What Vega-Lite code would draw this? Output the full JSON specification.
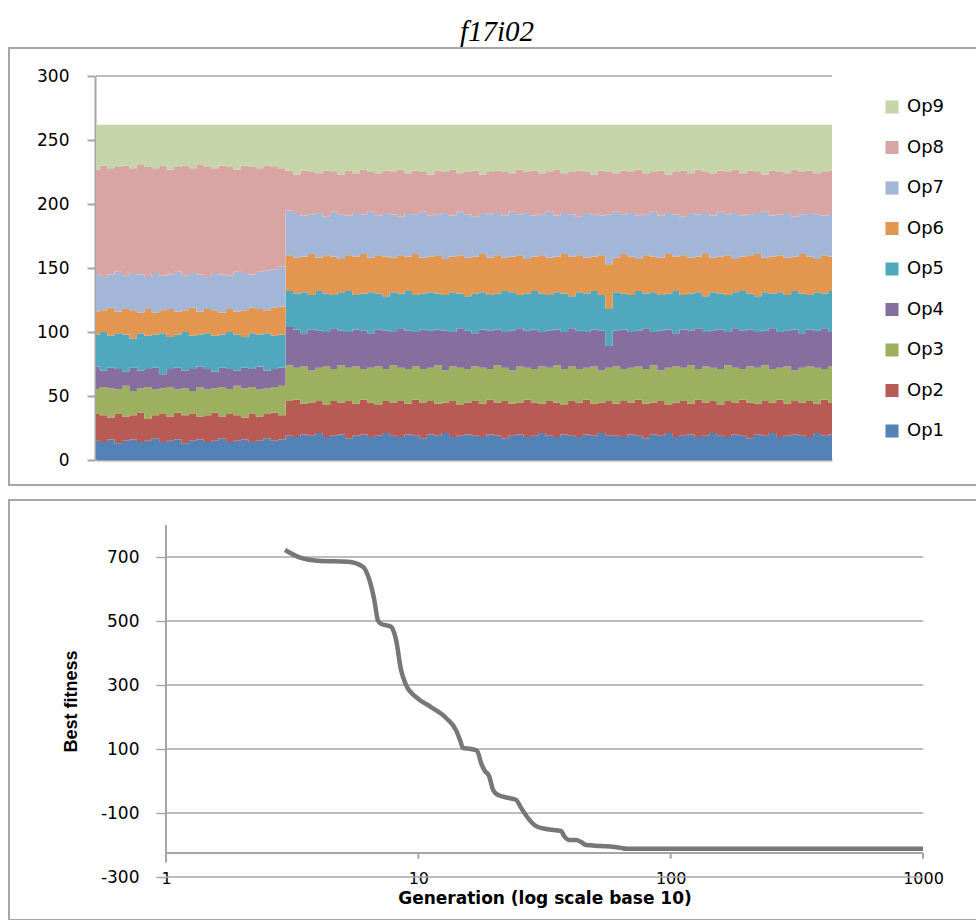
{
  "$schema": "https://vega.github.io/schema/vega-lite/v6.json",
  "background": "white",
  "padding": {"left": 8, "top": 18, "right": 0, "bottom": 0},
  "title": {"text": "f17i02", "font": "Liberation Serif", "fontStyle": "italic", "fontWeight": "normal", "fontSize": 29, "color": "#000000", "anchor": "middle", "frame": "group", "offset": 0, "dx": 4},
  "spacing": 13,
  "config": {
    "view": {"stroke": "#a6a6a6", "strokeWidth": 2},
    "axis": {"labelFont": "DejaVu Sans", "labelFontSize": 17, "labelColor": "#000000", "domainColor": "#a6a6a6", "tickColor": "#a6a6a6", "grid": false}
  },
  "vconcat": [
    {
      "width": 968,
      "height": 437,
      "layer": [
        {
          "data": {"values": [{"level": 300}]},
          "mark": {"type": "rule", "color": "#a6a6a6", "strokeWidth": 1.5},
          "encoding": {
            "y": {"field": "level", "type": "quantitative", "scale": {"domain": [0, 300], "range": [412, 28], "nice": false, "zero": false}},
            "x": {"datum": 1, "type": "quantitative", "scale": {"domain": [1, 100], "range": [87, 823], "nice": false, "zero": false}},
            "x2": {"datum": 100}
          }
        },
        {
          "data": {"values": [
            {"g":1,"Op1":15,"Op2":21,"Op3":19,"Op4":18,"Op5":25,"Op6":18,"Op7":30,"Op8":81,"Op9":35},
            {"g":2,"Op1":14,"Op2":21,"Op3":22,"Op4":13,"Op5":30,"Op6":17,"Op7":26,"Op8":87,"Op9":32},
            {"g":3,"Op1":16,"Op2":17,"Op3":23,"Op4":16,"Op5":25,"Op6":22,"Op7":26,"Op8":83,"Op9":34},
            {"g":4,"Op1":13,"Op2":23,"Op3":19,"Op4":16,"Op5":28,"Op6":17,"Op7":31,"Op8":82,"Op9":33},
            {"g":5,"Op1":15,"Op2":19,"Op3":24,"Op4":11,"Op5":29,"Op6":20,"Op7":26,"Op8":86,"Op9":32},
            {"g":6,"Op1":16,"Op2":19,"Op3":19,"Op4":18,"Op5":23,"Op6":22,"Op7":29,"Op8":82,"Op9":34},
            {"g":7,"Op1":14,"Op2":23,"Op3":19,"Op4":14,"Op5":29,"Op6":16,"Op7":30,"Op8":86,"Op9":31},
            {"g":8,"Op1":15,"Op2":17,"Op3":25,"Op4":14,"Op5":26,"Op6":21,"Op7":25,"Op8":86,"Op9":33},
            {"g":9,"Op1":17,"Op2":18,"Op3":20,"Op4":17,"Op5":26,"Op6":17,"Op7":31,"Op8":82,"Op9":34},
            {"g":10,"Op1":14,"Op2":22,"Op3":20,"Op4":11,"Op5":32,"Op6":18,"Op7":27,"Op8":86,"Op9":32},
            {"g":11,"Op1":15,"Op2":19,"Op3":23,"Op4":14,"Op5":25,"Op6":22,"Op7":27,"Op8":82,"Op9":35},
            {"g":12,"Op1":16,"Op2":21,"Op3":18,"Op4":17,"Op5":26,"Op6":18,"Op7":31,"Op8":82,"Op9":33},
            {"g":13,"Op1":13,"Op2":22,"Op3":21,"Op4":14,"Op5":30,"Op6":17,"Op7":27,"Op8":86,"Op9":32},
            {"g":14,"Op1":15,"Op2":21,"Op3":18,"Op4":17,"Op5":26,"Op6":22,"Op7":27,"Op8":82,"Op9":34},
            {"g":15,"Op1":16,"Op2":18,"Op3":23,"Op4":16,"Op5":25,"Op6":18,"Op7":29,"Op8":86,"Op9":31},
            {"g":16,"Op1":14,"Op2":21,"Op3":20,"Op4":16,"Op5":28,"Op6":19,"Op7":25,"Op8":86,"Op9":33},
            {"g":17,"Op1":15,"Op2":22,"Op3":19,"Op4":13,"Op5":28,"Op6":20,"Op7":29,"Op8":82,"Op9":34},
            {"g":18,"Op1":17,"Op2":17,"Op3":23,"Op4":15,"Op5":26,"Op6":17,"Op7":30,"Op8":85,"Op9":32},
            {"g":19,"Op1":14,"Op2":22,"Op3":19,"Op4":16,"Op5":29,"Op6":18,"Op7":26,"Op8":85,"Op9":33},
            {"g":20,"Op1":15,"Op2":20,"Op3":23,"Op4":12,"Op5":28,"Op6":18,"Op7":31,"Op8":80,"Op9":35},
            {"g":21,"Op1":16,"Op2":17,"Op3":23,"Op4":16,"Op5":24,"Op6":21,"Op7":29,"Op8":84,"Op9":32},
            {"g":22,"Op1":14,"Op2":22,"Op3":21,"Op4":14,"Op5":28,"Op6":20,"Op7":26,"Op8":84,"Op9":33},
            {"g":23,"Op1":15,"Op2":19,"Op3":21,"Op4":18,"Op5":25,"Op6":20,"Op7":29,"Op8":81,"Op9":34},
            {"g":24,"Op1":17,"Op2":19,"Op3":20,"Op4":14,"Op5":29,"Op6":18,"Op7":31,"Op8":82,"Op9":32},
            {"g":25,"Op1":15,"Op2":22,"Op3":20,"Op4":14,"Op5":26,"Op6":22,"Op7":30,"Op8":80,"Op9":33},
            {"g":26,"Op1":16,"Op2":19,"Op3":23,"Op4":14,"Op5":26,"Op6":22,"Op7":31,"Op8":77,"Op9":34},
            {"g":27,"Op1":19,"Op2":27,"Op3":28,"Op4":30,"Op5":28,"Op6":28,"Op7":35,"Op8":31,"Op9":36},
            {"g":28,"Op1":18,"Op2":29,"Op3":25,"Op4":30,"Op5":28,"Op6":28,"Op7":35,"Op8":30,"Op9":39},
            {"g":29,"Op1":20,"Op2":24,"Op3":29,"Op4":26,"Op5":32,"Op6":28,"Op7":32,"Op8":35,"Op9":36},
            {"g":30,"Op1":19,"Op2":26,"Op3":25,"Op4":32,"Op5":27,"Op6":32,"Op7":31,"Op8":33,"Op9":37},
            {"g":31,"Op1":21,"Op2":25,"Op3":26,"Op4":29,"Op5":31,"Op6":26,"Op7":35,"Op8":31,"Op9":38},
            {"g":32,"Op1":18,"Op2":25,"Op3":30,"Op4":27,"Op5":30,"Op6":30,"Op7":30,"Op8":36,"Op9":36},
            {"g":33,"Op1":19,"Op2":27,"Op3":25,"Op4":32,"Op5":26,"Op6":30,"Op7":35,"Op8":31,"Op9":37},
            {"g":34,"Op1":20,"Op2":25,"Op3":29,"Op4":27,"Op5":30,"Op6":26,"Op7":35,"Op8":31,"Op9":39},
            {"g":35,"Op1":17,"Op2":29,"Op3":26,"Op4":28,"Op5":32,"Op6":28,"Op7":31,"Op8":35,"Op9":36},
            {"g":36,"Op1":19,"Op2":25,"Op3":29,"Op4":29,"Op5":27,"Op6":30,"Op7":34,"Op8":31,"Op9":38},
            {"g":37,"Op1":20,"Op2":27,"Op3":24,"Op4":30,"Op5":29,"Op6":31,"Op7":31,"Op8":35,"Op9":35},
            {"g":38,"Op1":18,"Op2":27,"Op3":27,"Op4":27,"Op5":32,"Op6":27,"Op7":36,"Op8":31,"Op9":37},
            {"g":39,"Op1":19,"Op2":24,"Op3":30,"Op4":29,"Op5":28,"Op6":30,"Op7":31,"Op8":33,"Op9":38},
            {"g":40,"Op1":21,"Op2":25,"Op3":25,"Op4":30,"Op5":27,"Op6":31,"Op7":34,"Op8":33,"Op9":36},
            {"g":41,"Op1":19,"Op2":26,"Op3":29,"Op4":26,"Op5":31,"Op6":27,"Op7":34,"Op8":33,"Op9":37},
            {"g":42,"Op1":18,"Op2":28,"Op3":26,"Op4":31,"Op5":27,"Op6":30,"Op7":30,"Op8":37,"Op9":35},
            {"g":43,"Op1":20,"Op2":24,"Op3":27,"Op4":30,"Op5":31,"Op6":27,"Op7":34,"Op8":31,"Op9":38},
            {"g":44,"Op1":19,"Op2":28,"Op3":26,"Op4":27,"Op5":29,"Op6":32,"Op7":31,"Op8":34,"Op9":36},
            {"g":45,"Op1":17,"Op2":28,"Op3":26,"Op4":31,"Op5":28,"Op6":28,"Op7":36,"Op8":31,"Op9":37},
            {"g":46,"Op1":20,"Op2":26,"Op3":26,"Op4":29,"Op5":30,"Op6":28,"Op7":32,"Op8":32,"Op9":39},
            {"g":47,"Op1":19,"Op2":25,"Op3":30,"Op4":28,"Op5":28,"Op6":30,"Op7":32,"Op8":34,"Op9":36},
            {"g":48,"Op1":21,"Op2":24,"Op3":25,"Op4":31,"Op5":28,"Op6":28,"Op7":36,"Op8":32,"Op9":37},
            {"g":49,"Op1":18,"Op2":28,"Op3":27,"Op4":27,"Op5":31,"Op6":28,"Op7":32,"Op8":36,"Op9":35},
            {"g":50,"Op1":19,"Op2":24,"Op3":29,"Op4":31,"Op5":27,"Op6":30,"Op7":34,"Op8":30,"Op9":38},
            {"g":51,"Op1":20,"Op2":25,"Op3":26,"Op4":30,"Op5":27,"Op6":30,"Op7":34,"Op8":33,"Op9":37},
            {"g":52,"Op1":19,"Op2":27,"Op3":27,"Op4":26,"Op5":31,"Op6":29,"Op7":31,"Op8":36,"Op9":36},
            {"g":53,"Op1":18,"Op2":26,"Op3":28,"Op4":30,"Op5":29,"Op6":30,"Op7":32,"Op8":30,"Op9":39},
            {"g":54,"Op1":20,"Op2":27,"Op3":24,"Op4":30,"Op5":28,"Op6":29,"Op7":34,"Op8":33,"Op9":37},
            {"g":55,"Op1":19,"Op2":26,"Op3":29,"Op4":28,"Op5":28,"Op6":30,"Op7":33,"Op8":33,"Op9":36},
            {"g":56,"Op1":17,"Op2":29,"Op3":26,"Op4":28,"Op5":32,"Op6":26,"Op7":33,"Op8":34,"Op9":37},
            {"g":57,"Op1":19,"Op2":25,"Op3":26,"Op4":31,"Op5":30,"Op6":28,"Op7":35,"Op8":30,"Op9":38},
            {"g":58,"Op1":20,"Op2":25,"Op3":28,"Op4":30,"Op5":26,"Op6":31,"Op7":32,"Op8":35,"Op9":35},
            {"g":59,"Op1":18,"Op2":29,"Op3":25,"Op4":29,"Op5":29,"Op6":27,"Op7":36,"Op8":32,"Op9":37},
            {"g":60,"Op1":19,"Op2":26,"Op3":26,"Op4":31,"Op5":30,"Op6":27,"Op7":32,"Op8":35,"Op9":36},
            {"g":61,"Op1":21,"Op2":23,"Op3":29,"Op4":27,"Op5":30,"Op6":30,"Op7":32,"Op8":32,"Op9":38},
            {"g":62,"Op1":19,"Op2":27,"Op3":26,"Op4":29,"Op5":28,"Op6":29,"Op7":36,"Op8":31,"Op9":37},
            {"g":63,"Op1":18,"Op2":27,"Op3":29,"Op4":28,"Op5":29,"Op6":28,"Op7":32,"Op8":36,"Op9":35},
            {"g":64,"Op1":20,"Op2":23,"Op3":28,"Op4":29,"Op5":30,"Op6":31,"Op7":32,"Op8":31,"Op9":38},
            {"g":65,"Op1":19,"Op2":27,"Op3":27,"Op4":30,"Op5":25,"Op6":31,"Op7":33,"Op8":33,"Op9":37},
            {"g":66,"Op1":18,"Op2":27,"Op3":26,"Op4":30,"Op5":30,"Op6":29,"Op7":30,"Op8":36,"Op9":36},
            {"g":67,"Op1":20,"Op2":27,"Op3":25,"Op4":28,"Op5":30,"Op6":28,"Op7":35,"Op8":32,"Op9":37},
            {"g":68,"Op1":19,"Op2":25,"Op3":29,"Op4":29,"Op5":30,"Op6":27,"Op7":33,"Op8":31,"Op9":39},
            {"g":69,"Op1":21,"Op2":24,"Op3":25,"Op4":31,"Op5":28,"Op6":31,"Op7":31,"Op8":35,"Op9":36},
            {"g":70,"Op1":19,"Op2":27,"Op3":26,"Op4":17,"Op5":29,"Op6":35,"Op7":39,"Op8":33,"Op9":37},
            {"g":71,"Op1":19,"Op2":25,"Op3":29,"Op4":28,"Op5":30,"Op6":27,"Op7":36,"Op8":30,"Op9":38},
            {"g":72,"Op1":18,"Op2":28,"Op3":25,"Op4":31,"Op5":28,"Op6":31,"Op7":31,"Op8":34,"Op9":36},
            {"g":73,"Op1":20,"Op2":25,"Op3":27,"Op4":28,"Op5":29,"Op6":30,"Op7":34,"Op8":32,"Op9":37},
            {"g":74,"Op1":19,"Op2":28,"Op3":26,"Op4":28,"Op5":31,"Op6":25,"Op7":34,"Op8":36,"Op9":35},
            {"g":75,"Op1":17,"Op2":27,"Op3":27,"Op4":32,"Op5":27,"Op6":30,"Op7":32,"Op8":32,"Op9":38},
            {"g":76,"Op1":20,"Op2":25,"Op3":29,"Op4":26,"Op5":31,"Op6":28,"Op7":35,"Op8":31,"Op9":37},
            {"g":77,"Op1":19,"Op2":27,"Op3":24,"Op4":31,"Op5":28,"Op6":29,"Op7":33,"Op8":35,"Op9":36},
            {"g":78,"Op1":21,"Op2":22,"Op3":29,"Op4":30,"Op5":28,"Op6":31,"Op7":32,"Op8":30,"Op9":39},
            {"g":79,"Op1":18,"Op2":27,"Op3":28,"Op4":26,"Op5":33,"Op6":27,"Op7":33,"Op8":33,"Op9":37},
            {"g":80,"Op1":19,"Op2":27,"Op3":26,"Op4":30,"Op5":27,"Op6":31,"Op7":30,"Op8":36,"Op9":36},
            {"g":81,"Op1":20,"Op2":24,"Op3":30,"Op4":27,"Op5":29,"Op6":28,"Op7":35,"Op8":31,"Op9":38},
            {"g":82,"Op1":18,"Op2":29,"Op3":24,"Op4":32,"Op5":28,"Op6":28,"Op7":33,"Op8":35,"Op9":35},
            {"g":83,"Op1":19,"Op2":26,"Op3":28,"Op4":27,"Op5":28,"Op6":33,"Op7":32,"Op8":32,"Op9":37},
            {"g":84,"Op1":21,"Op2":25,"Op3":26,"Op4":29,"Op5":30,"Op6":27,"Op7":33,"Op8":33,"Op9":38},
            {"g":85,"Op1":19,"Op2":24,"Op3":28,"Op4":31,"Op5":28,"Op6":29,"Op7":35,"Op8":32,"Op9":36},
            {"g":86,"Op1":18,"Op2":28,"Op3":28,"Op4":26,"Op5":29,"Op6":31,"Op7":32,"Op8":33,"Op9":37},
            {"g":87,"Op1":20,"Op2":25,"Op3":27,"Op4":31,"Op5":28,"Op6":26,"Op7":36,"Op8":34,"Op9":35},
            {"g":88,"Op1":19,"Op2":28,"Op3":24,"Op4":30,"Op5":31,"Op6":27,"Op7":32,"Op8":33,"Op9":38},
            {"g":89,"Op1":17,"Op2":28,"Op3":28,"Op4":29,"Op5":28,"Op6":30,"Op7":32,"Op8":34,"Op9":36},
            {"g":90,"Op1":20,"Op2":24,"Op3":28,"Op4":28,"Op5":28,"Op6":33,"Op7":32,"Op8":32,"Op9":37},
            {"g":91,"Op1":19,"Op2":27,"Op3":28,"Op4":27,"Op5":30,"Op6":27,"Op7":36,"Op8":29,"Op9":39},
            {"g":92,"Op1":21,"Op2":24,"Op3":26,"Op4":32,"Op5":27,"Op6":29,"Op7":32,"Op8":35,"Op9":36},
            {"g":93,"Op1":18,"Op2":29,"Op3":25,"Op4":28,"Op5":31,"Op6":29,"Op7":32,"Op8":33,"Op9":37},
            {"g":94,"Op1":19,"Op2":25,"Op3":29,"Op4":28,"Op5":28,"Op6":29,"Op7":35,"Op8":31,"Op9":38},
            {"g":95,"Op1":20,"Op2":26,"Op3":24,"Op4":32,"Op5":30,"Op6":27,"Op7":31,"Op8":37,"Op9":35},
            {"g":96,"Op1":19,"Op2":26,"Op3":27,"Op4":27,"Op5":31,"Op6":31,"Op7":31,"Op8":33,"Op9":37},
            {"g":97,"Op1":18,"Op2":28,"Op3":27,"Op4":29,"Op5":27,"Op6":30,"Op7":34,"Op8":33,"Op9":36},
            {"g":98,"Op1":21,"Op2":23,"Op3":28,"Op4":29,"Op5":30,"Op6":26,"Op7":35,"Op8":32,"Op9":38},
            {"g":99,"Op1":19,"Op2":28,"Op3":24,"Op4":32,"Op5":27,"Op6":30,"Op7":31,"Op8":34,"Op9":37},
            {"g":100,"Op1":20,"Op2":25,"Op3":28,"Op4":27,"Op5":32,"Op6":27,"Op7":34,"Op8":33,"Op9":36}
          ]},
          "transform": [{"fold": ["Op1","Op2","Op3","Op4","Op5","Op6","Op7","Op8","Op9"], "as": ["op","v"]}],
          "mark": {"type": "area", "interpolate": "step"},
          "encoding": {
            "x": {"field": "g", "type": "quantitative", "scale": {"domain": [1, 100], "range": [87, 823], "nice": false, "zero": false},
                  "axis": {"orient": "bottom", "offset": -25, "domain": true, "domainWidth": 2, "ticks": false, "labels": false, "title": null, "grid": false}},
            "y": {"field": "v", "type": "quantitative", "stack": "zero", "scale": {"domain": [0, 300], "range": [412, 28], "nice": false, "zero": false},
                  "axis": {"orient": "left", "offset": -86, "values": [0, 50, 100, 150, 200, 250, 300], "domain": true, "domainWidth": 2, "ticks": true, "tickSize": 8, "tickWidth": 2, "labels": true, "labelPadding": 18, "title": null, "grid": false}},
            "order": {"field": "op", "sort": "ascending"},
            "color": {"field": "op", "type": "nominal",
                      "scale": {"domain": ["Op1","Op2","Op3","Op4","Op5","Op6","Op7","Op8","Op9"], "range": ["#5383b6","#b95b55","#9cb05f","#866e9e","#50a8bf","#e2964f","#a3b6d7","#d9a5a2","#c6d4a9"]},
                      "legend": {"orient": "none", "legendX": 874, "legendY": 50, "values": ["Op9","Op8","Op7","Op6","Op5","Op4","Op3","Op2","Op1"], "title": null, "symbolType": "square", "symbolSize": 170, "symbolStrokeWidth": 0, "labelFont": "DejaVu Sans", "labelFontSize": 18, "labelColor": "#000000", "labelOffset": 6, "rowPadding": 22.5}}
          }
        }
      ]
    },
    {
      "width": 968,
      "height": 420,
      "layer": [
        {
          "data": {"values": [{"level": -300}, {"level": -100}, {"level": 100}, {"level": 300}, {"level": 500}, {"level": 700}]},
          "mark": {"type": "rule", "color": "#a6a6a6", "strokeWidth": 1.5},
          "encoding": {
            "y": {"field": "level", "type": "quantitative", "scale": {"domain": [-300, 800], "range": [377, 25], "nice": false, "zero": false}},
            "x": {"datum": 1, "type": "quantitative", "scale": {"type": "log", "domain": [1, 1000], "range": [157, 914], "nice": false}},
            "x2": {"datum": 1000}
          }
        },
        {
          "data": {"values": [{"axis": "x"}]},
          "mark": {"type": "rule", "color": "#a6a6a6", "strokeWidth": 2},
          "encoding": {
            "y": {"datum": -225, "type": "quantitative"},
            "x": {"datum": 1, "type": "quantitative"},
            "x2": {"datum": 1000}
          }
        },
        {
          "data": {"values": [{"t": 10}, {"t": 100}, {"t": 1000}]},
          "mark": {"type": "rule", "color": "#a6a6a6", "strokeWidth": 2},
          "encoding": {
            "x": {"field": "t", "type": "quantitative"},
            "y": {"datum": -225, "type": "quantitative"},
            "y2": {"datum": -243}
          }
        },
        {
          "data": {"values": [{"axis": "y"}]},
          "mark": {"type": "rule", "color": "#a6a6a6", "strokeWidth": 2},
          "encoding": {
            "x": {"datum": 1, "type": "quantitative"},
            "y": {"datum": 800, "type": "quantitative"},
            "y2": {"datum": -255}
          }
        },
        {
          "data": {"values": [
            {"gen": 2.96, "fit": 722}, {"gen": 3.43, "fit": 697}, {"gen": 3.99, "fit": 688}, {"gen": 5.25, "fit": 685},
            {"gen": 6.02, "fit": 670}, {"gen": 6.4, "fit": 628}, {"gen": 6.69, "fit": 566}, {"gen": 6.91, "fit": 503},
            {"gen": 7.12, "fit": 491}, {"gen": 7.79, "fit": 482}, {"gen": 8.16, "fit": 441}, {"gen": 8.54, "fit": 347},
            {"gen": 8.94, "fit": 300}, {"gen": 9.8, "fit": 262}, {"gen": 11.23, "fit": 231}, {"gen": 12.88, "fit": 197},
            {"gen": 14.1, "fit": 159}, {"gen": 14.63, "fit": 128}, {"gen": 15.04, "fit": 103}, {"gen": 16.18, "fit": 100},
            {"gen": 17.09, "fit": 94}, {"gen": 17.73, "fit": 56}, {"gen": 18.37, "fit": 31}, {"gen": 19.06, "fit": 16},
            {"gen": 19.78, "fit": -28}, {"gen": 20.7, "fit": -44}, {"gen": 22.88, "fit": -53}, {"gen": 24.39, "fit": -59},
            {"gen": 25.54, "fit": -84}, {"gen": 27.22, "fit": -116}, {"gen": 29.3, "fit": -141}, {"gen": 32.07, "fit": -150},
            {"gen": 36.8, "fit": -156}, {"gen": 37.8, "fit": -172}, {"gen": 39.55, "fit": -184}, {"gen": 42.2, "fit": -184},
            {"gen": 44.2, "fit": -191}, {"gen": 46.2, "fit": -200}, {"gen": 53, "fit": -203}, {"gen": 63.6, "fit": -209},
            {"gen": 66.6, "fit": -212}, {"gen": 131.9, "fit": -212}, {"gen": 1000, "fit": -212}
          ]},
          "mark": {"type": "line", "color": "#777777", "strokeWidth": 4.5, "interpolate": "monotone"},
          "encoding": {
            "x": {"field": "gen", "type": "quantitative", "scale": {"type": "log", "domain": [1, 1000], "range": [157, 914], "nice": false},
                  "axis": {"orient": "bottom", "offset": -43, "values": [1, 10, 100, 1000], "format": "d", "domain": false, "ticks": false, "labels": true, "grid": false, "labelBaseline": "middle", "labelFontSize": 16, "labelPadding": 1, "labelFlush": false, "labelOverlap": false,
                           "title": "Generation (log scale base 10)", "titleFont": "DejaVu Sans", "titleFontSize": 17, "titleFontWeight": "bold", "titleColor": "#000000", "titlePadding": 4}},
            "y": {"field": "fit", "type": "quantitative", "scale": {"domain": [-300, 800], "range": [377, 25], "nice": false, "zero": false},
                  "axis": {"orient": "left", "offset": -157, "values": [-300, -100, 100, 300, 500, 700], "domain": false, "ticks": true, "tickSize": 10, "tickWidth": 1.5, "labels": true, "labelPadding": 17, "grid": false,
                           "labelExpr": "replace(datum.label, '\u2212', '-')",
                           "title": "Best fitness", "titleFont": "Liberation Sans", "titleFontSize": 18, "titleFontWeight": "bold", "titleColor": "#000000", "titlePadding": 20}}
          }
        }
      ]
    }
  ]
}
